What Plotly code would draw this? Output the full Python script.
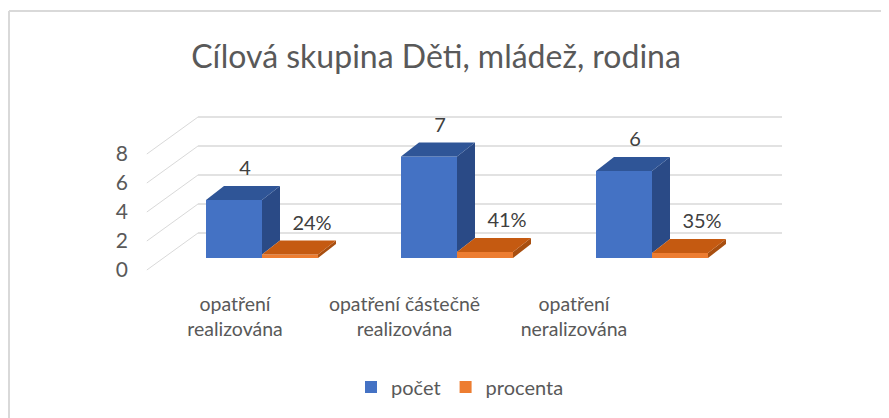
import plotly.graph_objects as go
import numpy as np

# data
categories = ["opatření realizována", "opatření částečně realizována", "opatření neralizována"]
tick_labels = ["opatření<br>realizována", "opatření částečně<br>realizována", "opatření<br>neralizována"]
pocet = [4, 7, 6]
procenta = [0.24, 0.41, 0.35]
y_ticks = [0, 2, 4, 6, 8]

TITLE = "Cílová skupina Děti, mládež, rodina"
FONT = "Lato"
GREY = "#595959"
GRID = "#D9D9D9"
BLUE, BLUE_TOP, BLUE_SIDE = "#4472C4", "#2F5597", "#2A4A86"
ORANGE, ORANGE_TOP, ORANGE_SIDE = "#ED7D31", "#C55A11", "#A84F10"

# page geometry, in screen pixels (the page body adds an 8px margin)
OFF = 8
W, H = 889, 418
L, R, T, B = 150, 782, 95, 290          # plot area
BASE_PX, PX_UNIT = 258, 14.5             # bar front base, px per value unit
CAT0_PX, CAT_PX = 262, 195               # bar pair centre, px per category
LAB0_PX, LAB_PX = 235, 169.5             # category label centre (perspective)
BAR_W = 56 / CAT_PX
DX, DY = 18 / CAT_PX, 14 / PX_UNIT       # 3d depth of the bars
BACK_DY = 25 / PX_UNIT                   # back wall shift
FRONT_DY = 12 / PX_UNIT                  # front edge shift
BACK_X = (198 - L) / (R - L)             # back wall left edge (paper)

x = np.arange(len(categories))
y_range = [-(B - BASE_PX) / PX_UNIT, (BASE_PX - T) / PX_UNIT]
x_range = [(L - CAT0_PX) / CAT_PX, (R - CAT0_PX) / CAT_PX]
x2_range = [(L - LAB0_PX) / LAB_PX, (R - LAB0_PX) / LAB_PX]


def px_x(px):
    return (px - L) / (R - L)


def px_y(py):
    return (B - py) / (B - T)


def poly(pts, color):
    path = "M " + " L ".join(f"{a},{b}" for a, b in pts) + " Z"
    return dict(type="path", path=path, xref="x", yref="y",
                fillcolor=color, line=dict(width=0), layer="above")


fig = go.Figure()

fig.add_trace(go.Bar(x=x, y=pocet, name="počet", width=BAR_W, offset=-BAR_W,
                     marker=dict(color=BLUE, line=dict(width=0)), hoverinfo="y"))
fig.add_trace(go.Bar(x=x, y=procenta, name="procenta", width=BAR_W, offset=0,
                     marker=dict(color=ORANGE, line=dict(width=0)), hoverinfo="y"))

# data labels
fig.add_trace(go.Scatter(x=x - BAR_W / 2 + 11 / CAT_PX, y=np.array(pocet) + 30 / PX_UNIT,
                         mode="text", text=[str(v) for v in pocet],
                         textfont=dict(size=20, color="#404040", family=FONT),
                         showlegend=False, hoverinfo="skip"))
fig.add_trace(go.Scatter(x=x + BAR_W / 2 + 22 / CAT_PX, y=np.array(procenta) + 30 / PX_UNIT,
                         mode="text", text=[f"{p:.0%}" for p in procenta],
                         textfont=dict(size=20, color="#404040", family=FONT),
                         showlegend=False, hoverinfo="skip"))

# invisible trace carrying the category axis
fig.add_trace(go.Scatter(x=categories, y=[0] * len(categories), xaxis="x2",
                         mode="markers", marker=dict(opacity=0),
                         showlegend=False, hoverinfo="skip"))

shapes = []
# gridlines: left wall (slanted) + back wall
for v in y_ticks:
    shapes.append(dict(type="line", xref="paper", yref="y", x0=-0.005, x1=BACK_X,
                       y0=v - FRONT_DY, y1=v + BACK_DY,
                       line=dict(color=GRID, width=1), layer="below"))
    shapes.append(dict(type="line", xref="paper", yref="y", x0=BACK_X, x1=1,
                       y0=v + BACK_DY, y1=v + BACK_DY,
                       line=dict(color=GRID, width=1.5), layer="below"))

# 3d faces of the bars
for xi, v, p in zip(x, pocet, procenta):
    bl, br = xi - BAR_W, xi
    ol, orr = xi, xi + BAR_W
    shapes.append(poly([(br, p), (br + DX, p + DY), (br + DX, v + DY), (br, v)], BLUE_SIDE))
    shapes.append(poly([(bl, v), (br, v), (br + DX, v + DY), (bl + DX, v + DY)], BLUE_TOP))
    shapes.append(poly([(orr, 0), (orr + DX, DY), (orr + DX, p + DY), (orr, p)], ORANGE_SIDE))
    shapes.append(poly([(ol, p), (orr, p), (orr + DX, p + DY), (ol + DX, p + DY)], ORANGE_TOP))

# chart border (left and top edges visible)
shapes.append(dict(type="line", xref="paper", yref="paper", x0=px_x(9), x1=px_x(9),
                   y0=px_y(11), y1=px_y(H + 20), line=dict(color=GRID, width=2)))
shapes.append(dict(type="line", xref="paper", yref="paper", x0=px_x(9), x1=px_x(W + 20),
                   y0=px_y(11), y1=px_y(11), line=dict(color=GRID, width=2)))

fig.update_layout(
    width=W, height=H,
    margin=dict(l=L - OFF, r=W - R + OFF, t=T - OFF, b=H - B + OFF),
    paper_bgcolor="white", plot_bgcolor="white",
    barmode="overlay",
    title=dict(text=TITLE, x=(436 - OFF) / W, xanchor="center",
               y=1 - (57 - OFF) / H, yanchor="middle",
               font=dict(family=FONT, size=32, color=GREY)),
    font=dict(family=FONT, color=GREY),
    xaxis=dict(range=x_range, showticklabels=False, showgrid=False, zeroline=False,
               showline=False, fixedrange=True),
    xaxis2=dict(overlaying="x", side="bottom", range=x2_range, type="category",
                tickvals=categories, ticktext=tick_labels, showgrid=False,
                zeroline=False, showline=False, ticks="",
                tickfont=dict(size=19.5, color=GREY, family=FONT)),
    yaxis=dict(range=y_range, tickvals=y_ticks, showgrid=False, zeroline=False,
               showline=False, ticks="", ticklabelshift=12, ticklabelstandoff=21,
               tickfont=dict(size=21, color=GREY, family=FONT)),
    legend=dict(orientation="h", x=px_x(460), xanchor="center", y=px_y(387),
                yanchor="middle", font=dict(size=20, color=GREY, family=FONT)),
    shapes=shapes,
    showlegend=True,
)

fig.write_html("out.html")
